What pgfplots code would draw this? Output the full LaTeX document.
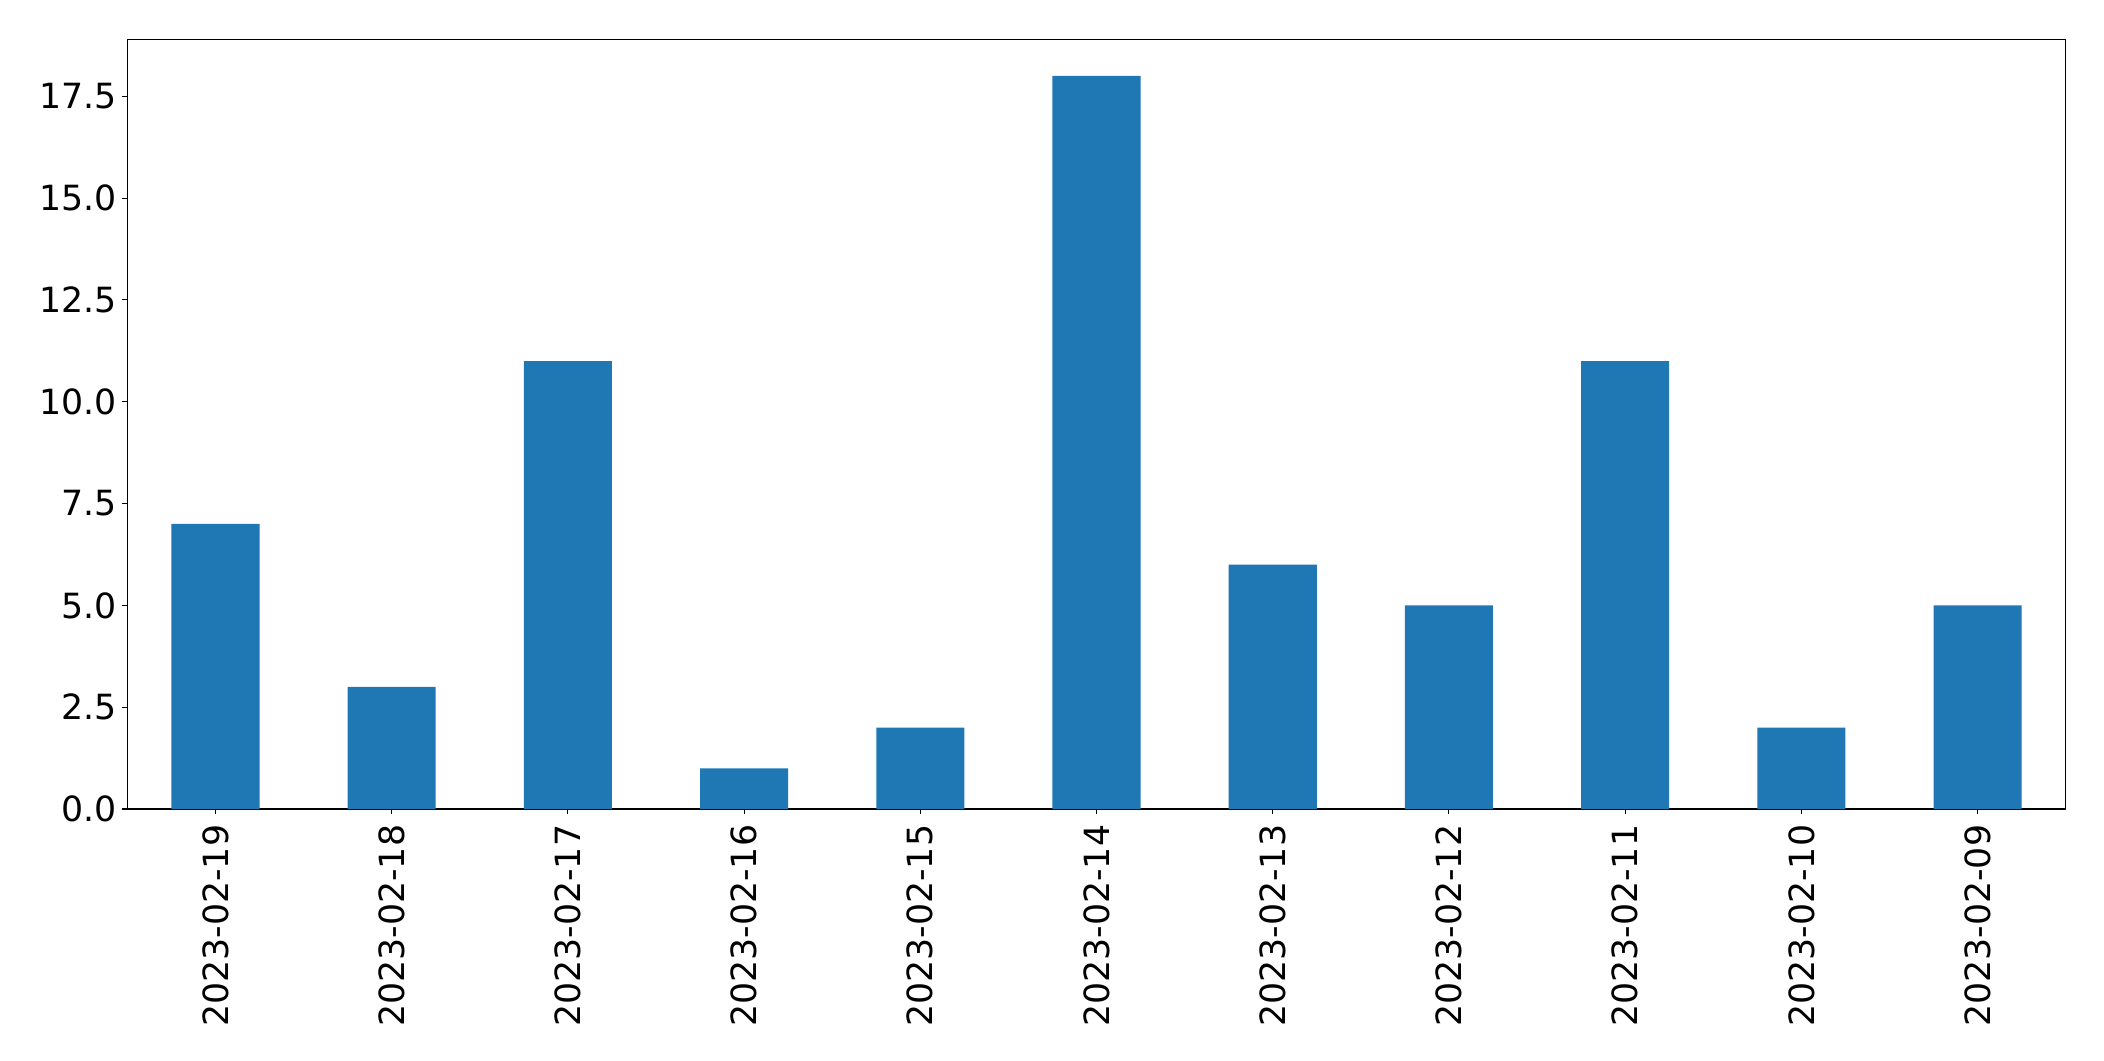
\documentclass[border=0pt]{standalone}
\usepackage{pgfplots}
\pgfplotsset{compat=1.18}
\usepackage{fontspec}
\setmainfont{DejaVu Sans}
\definecolor{tabblue}{HTML}{1F77B4}
\begin{document}
\begin{tikzpicture}
\begin{axis}[
  scale only axis,
  width=1395.6pt, height=554.2pt,
  xmin=-0.5, xmax=10.5, ymin=0, ymax=18.9,
  xtick={0,...,10},
  xticklabels={2023-02-19,2023-02-18,2023-02-17,2023-02-16,2023-02-15,2023-02-14,2023-02-13,2023-02-12,2023-02-11,2023-02-10,2023-02-09},
  ytick={0,2.5,...,17.5},
  yticklabel style={/pgf/number format/fixed, /pgf/number format/fixed zerofill, /pgf/number format/precision=1, /pgf/number format/assume math mode=true},
  tick label style={font=\fontsize{25}{30}\selectfont},
  xticklabel style={yshift=-7.7pt, rotate=90, anchor=east, inner sep=0pt},
  yticklabel style={inner sep=0pt, xshift=-4pt},
  tick align=outside,
  xtick pos=left, ytick pos=left,
  major tick length=3.5pt,
  every tick/.style={black, line width=0.8pt},
  axis line style={black, line width=0.8pt},
]
\addplot[ybar, bar width=0.5, fill=tabblue, draw=none] coordinates {
(0,7) (1,3) (2,11) (3,1) (4,2) (5,18) (6,6) (7,5) (8,11) (9,2) (10,5)};
\end{axis}
\path ([xshift=-91.7pt,yshift=-181.4pt]current axis.south west) rectangle ([xshift=27.6pt,yshift=28.3pt]current axis.north east);
\end{tikzpicture}
\end{document}
